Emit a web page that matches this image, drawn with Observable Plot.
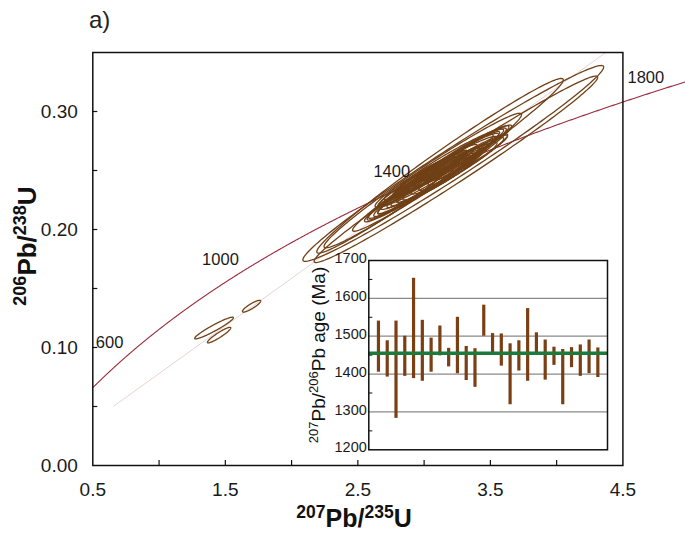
<!DOCTYPE html>
<html><head><meta charset="utf-8">
<script src="https://cdn.jsdelivr.net/npm/d3@7"></script>
<script src="https://cdn.jsdelivr.net/npm/@observablehq/plot@0.6"></script>
<style>
body{margin:0;background:#fff;font-family:"Liberation Sans",Arial,sans-serif;}
#wrap{position:relative;width:685px;height:535px;overflow:hidden;}
#title{height:40px;line-height:40px;padding-left:89px;font-size:24px;color:#222;}
#inset{position:absolute;left:300px;top:250px;}
svg{overflow:visible;}
</style></head><body>
<div id="wrap"><div id="title">a)</div><div id="main"></div><div id="inset"></div></div>
<script>
// ---------- data ----------
// decay constants (per year)
const lambda238 = 1.55125e-10;
const lambda235 = 9.8485e-10;
const concordiaAgeLabels = [600, 1000, 1400, 1800];
const concordiaStartAge = 412, concordiaEndAge = 1814;

// discordia reference line
const discX = [0.658, 4.37];
const discY = [0.0503, 0.35];

// error ellipses: centre, half-extent in x and y, correlation
const ellCx  = [3.22, 3.24, 3.12, 2.99, 3.06, 3.14, 3.05, 3.10, 2.98, 3.15, 3.20, 2.92, 3.25, 3.02, 3.12, 3.30, 2.88, 3.18, 3.08, 2.95, 3.22, 3.35, 2.85, 3.00, 3.10, 3.28, 3.05, 3.15, 2.95, 3.25, 3.10, 3.00, 3.20, 2.90, 3.32, 3.05, 1.415, 1.453, 1.698];
const ellCy  = [0.256, 0.251, 0.254, 0.2415, 0.2435, 0.247, 0.243, 0.249, 0.243, 0.247, 0.258, 0.232, 0.254, 0.246, 0.244, 0.264, 0.236, 0.249, 0.250, 0.2345, 0.259, 0.261, 0.228, 0.245, 0.2425, 0.262, 0.2475, 0.254, 0.240, 0.2535, 0.2455, 0.2395, 0.2565, 0.2315, 0.265, 0.241, 0.1165, 0.1105, 0.135];
const ellSx  = [1.135, 1.07, 0.93, 0.745, 0.60, 0.49, 0.38, 0.45, 0.35, 0.40, 0.42, 0.30, 0.35, 0.25, 0.28, 0.30, 0.22, 0.22, 0.32, 0.40, 0.30, 0.28, 0.28, 0.30, 0.30, 0.36, 0.20, 0.18, 0.20, 0.22, 0.38, 0.42, 0.36, 0.25, 0.25, 0.26, 0.146, 0.088, 0.069];
const ellSy  = [0.083, 0.079, 0.074, 0.057, 0.045, 0.034, 0.026, 0.030, 0.024, 0.027, 0.028, 0.021, 0.024, 0.018, 0.019, 0.021, 0.016, 0.016, 0.022, 0.028, 0.022, 0.019, 0.020, 0.020, 0.020, 0.026, 0.0145, 0.013, 0.014, 0.016, 0.027, 0.030, 0.025, 0.018, 0.018, 0.018, 0.0092, 0.0066, 0.005];
const ellRho = [0.984, 0.987, 0.984, 0.98, 0.98, 0.975, 0.965, 0.97, 0.96, 0.965, 0.96, 0.955, 0.96, 0.955, 0.95, 0.96, 0.95, 0.945, 0.965, 0.97, 0.955, 0.96, 0.96, 0.955, 0.955, 0.965, 0.95, 0.945, 0.95, 0.955, 0.97, 0.97, 0.965, 0.955, 0.955, 0.955, 0.95, 0.93, 0.88];

// axes
const xLabelTicks = [0.5, 1.5, 2.5, 3.5, 4.5];
const xMinorTicks = [1.0, 1.5, 2.0, 2.5, 3.0, 3.5, 4.0];
const yLabelTicks = [0.00, 0.10, 0.20, 0.30];
const yMinorTicks = [0.05, 0.10, 0.15, 0.20, 0.25, 0.30];

// inset: 207Pb/206Pb ages with error bars (Ma)
const spotIndex = [1,2,3,4,5,6,7,8,9,10,11,12,13,14,15,16,17,18,19,20,21,22,23,24,25,26];
const ageHigh = [1540,1488,1540,1500,1653,1542,1495,1527,1468,1550,1473,1467,1582,1507,1506,1480,1488,1573,1509,1490,1471,1465,1470,1477,1490,1469];
const ageLow  = [1405,1392,1283,1394,1388,1381,1405,1448,1419,1401,1383,1365,1500,1452,1421,1319,1408,1381,1452,1384,1423,1319,1417,1394,1401,1391];
const meanAge = 1455;
const insetLabelTicks = [1200, 1300, 1400, 1500, 1600, 1700];
const insetGrid = [1300, 1400, 1500, 1600];
const insetMinorTicks = [1250, 1350, 1450, 1550, 1650];

// ---------- derived geometry ----------
const concX = t => Math.exp(lambda235 * t * 1e6) - 1;
const concY = t => Math.exp(lambda238 * t * 1e6) - 1;
const concRows = d3.range(concordiaStartAge, concordiaEndAge + 0.1, 2).map(t => ({x: concX(t), y: concY(t)}));
const discRows = discX.map((x, i) => ({x, y: discY[i]}));
const ellRows = [];
ellCx.forEach((cx, i) => {
  const sx = ellSx[i], sy = ellSy[i], r = ellRho[i], q = Math.sqrt(1 - r * r);
  for (let k = 0; k <= 180; k++) {
    const a = 2 * Math.PI * k / 180;
    ellRows.push({id: i, x: cx + sx * Math.cos(a), y: ellCy[i] + sy * (r * Math.cos(a) + q * Math.sin(a))});
  }
});

const W = 685, H = 495, mL = 92.3, mR = 62.6, mT = 12, mB = 70;
const frameW = W - mL - mR, frameH = H - mT - mB;
const brown = "#704016";

const main = Plot.plot({
  width: W, height: H,
  marginLeft: mL, marginRight: mR, marginTop: mT, marginBottom: mB,
  style: {fontFamily: "Liberation Sans, Arial, sans-serif", fontSize: "19px", color: "#1a1a1a", background: "transparent", overflow: "visible"},
  x: {domain: [0.5, 4.5]},
  y: {domain: [0, 0.35]},
  marks: [
    Plot.line(discRows, {x: "x", y: "y", stroke: "#ead3d3", strokeWidth: 1}),
    Plot.line(concRows, {x: "x", y: "y", stroke: "#9a2a3a", strokeWidth: 1.1, clip: false}),
    Plot.line(ellRows, {x: "x", y: "y", z: "id", stroke: brown, strokeWidth: 1.3}),
    Plot.text(concordiaAgeLabels, {x: t => concX(t), y: t => concY(t), text: t => String(t), textAnchor: "end", dx: -10, dy: -8, fontSize: 16.5, fill: "#1a1a1a"}),
    Plot.frame({stroke: "#111", strokeWidth: 1.5}),
    Plot.tickX(xMinorTicks, {x: d => d, insetTop: frameH - 5, stroke: "#111", strokeWidth: 1.2}),
    Plot.tickY(yMinorTicks, {y: d => d, insetRight: frameW - 5, stroke: "#111", strokeWidth: 1.2}),
    Plot.axisX({ticks: xLabelTicks, tickSize: 0, tickPadding: 17, tickFormat: d3.format(".1f"), fontSize: 19, label: null}),
    Plot.axisY({ticks: yLabelTicks, tickSize: 0, tickPadding: 15, tickFormat: d3.format(".2f"), fontSize: 19, label: null})
  ]
});
document.getElementById("main").appendChild(main);

function richLabel(sel, parts, bigSize, supSize) {
  parts.forEach(p => {
    const ts = sel.append("tspan").text(p.t);
    if (p.sup) ts.attr("font-size", supSize).attr("dy", -bigSize * 0.38);
    else ts.attr("font-size", bigSize).attr("dy", p.after ? bigSize * 0.38 : 0);
  });
}
const msvg = d3.select(main);
const ylab = msvg.append("text").attr("transform", "translate(36,206) rotate(-90)")
  .attr("text-anchor", "middle").attr("font-weight", "bold").attr("fill", "#111");
richLabel(ylab, [{t: "206", sup: true}, {t: "Pb/", after: true}, {t: "238", sup: true}, {t: "U", after: true}], 26, 18);
const xlab = msvg.append("text").attr("transform", "translate(354,487)")
  .attr("text-anchor", "middle").attr("font-weight", "bold").attr("fill", "#111");
richLabel(xlab, [{t: "207", sup: true}, {t: "Pb/", after: true}, {t: "235", sup: true}, {t: "U", after: true}], 25, 17.5);

// ---------- inset ----------
const iW = 315, iH = 210, iL = 68.3, iR = 8, iT = 10, iB = 10.7;
const barRows = spotIndex.map((s, i) => ({s, lo: ageLow[i], hi: ageHigh[i]}));
const inset = Plot.plot({
  width: iW, height: iH, marginLeft: iL, marginRight: iR, marginTop: iT, marginBottom: iB,
  style: {fontFamily: "Liberation Sans, Arial, sans-serif", fontSize: "14.5px", color: "#1a1a1a", background: "transparent", overflow: "visible"},
  x: {domain: [-0.1, 27.1], axis: null},
  y: {domain: [1200, 1700]},
  marks: [
    Plot.frame({fill: "white", stroke: "none"}),
    Plot.ruleY(insetGrid, {stroke: "#8a8a8a", strokeWidth: 1.3}),
    Plot.tickY(insetMinorTicks, {y: d => d, insetRight: (iW - iL - iR) - 4, stroke: "#111", strokeWidth: 1}),
    Plot.ruleX(barRows, {x: "s", y1: "lo", y2: "hi", stroke: "#7b3f14", strokeWidth: 3.2}),
    Plot.ruleY([meanAge], {stroke: "#1c7a3c", strokeWidth: 3.4}),
    Plot.frame({stroke: "#111", strokeWidth: 1.5}),
    Plot.axisY({ticks: insetLabelTicks, tickSize: 0, tickPadding: 2, dy: -2, fontSize: 14.5, tickFormat: d3.format("d"), label: null})
  ]
});
document.getElementById("inset").appendChild(inset);
const isvg = d3.select(inset);
const ilab = isvg.append("text").attr("transform", "translate(25,105) rotate(-90)")
  .attr("text-anchor", "middle").attr("fill", "#111");
richLabel(ilab, [{t: "207", sup: true}, {t: "Pb/", after: true}, {t: "206", sup: true}, {t: "Pb age (Ma)", after: true}], 19, 13);
</script>
</body></html>
